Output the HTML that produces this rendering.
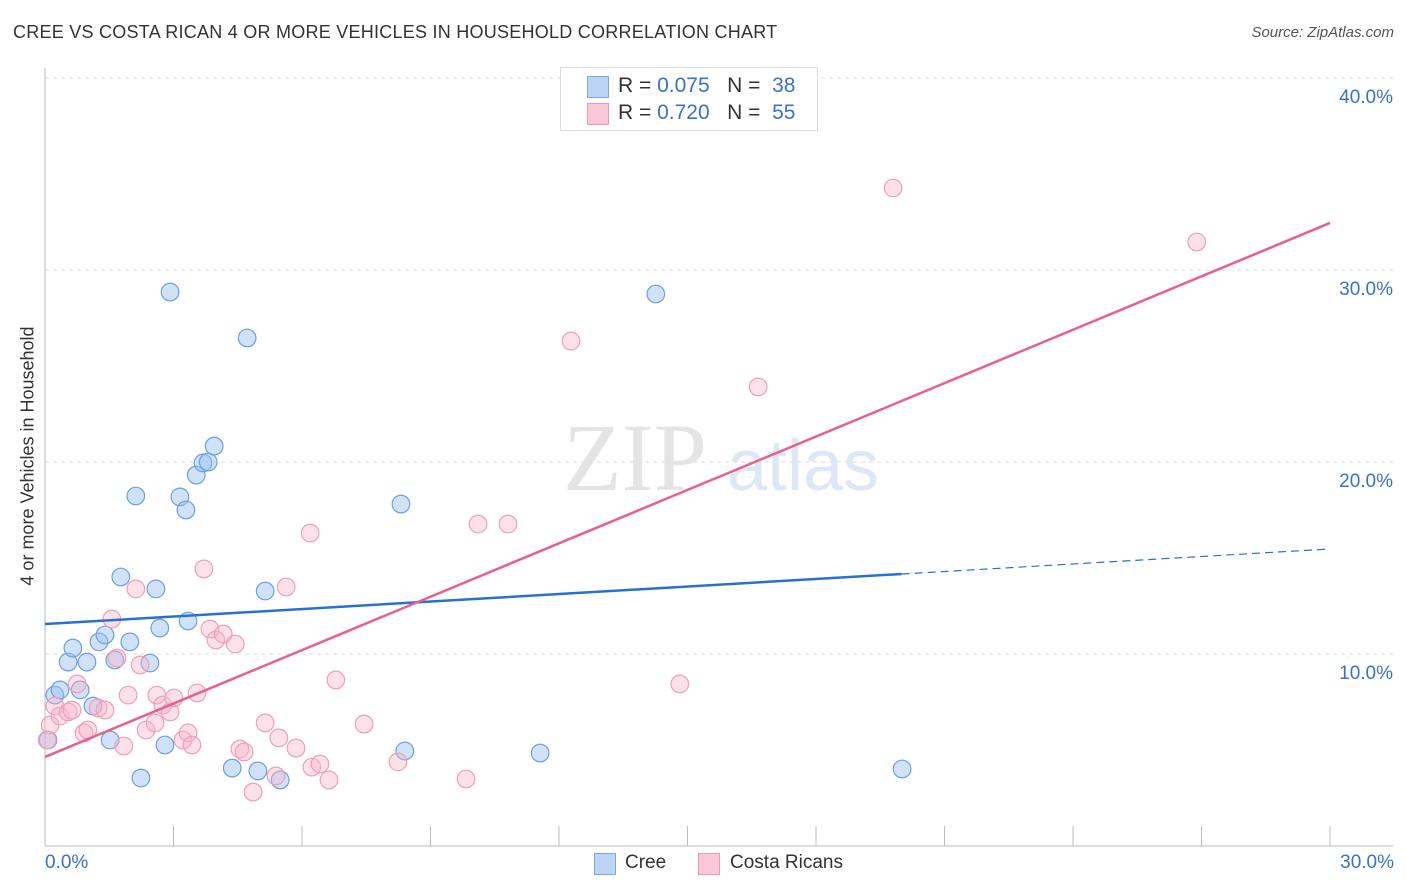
<!DOCTYPE html>
<html><head><meta charset="utf-8">
<style>
body{margin:0;background:#fff;font-family:"Liberation Sans",sans-serif;}
#wrap{position:relative;width:1406px;height:892px;overflow:hidden;}
.t{position:absolute;white-space:nowrap;}
</style></head>
<body><div id="wrap">
<div class="t" style="left:13px;top:22px;font-size:18px;letter-spacing:0.25px;color:#333;">CREE VS COSTA RICAN 4 OR MORE VEHICLES IN HOUSEHOLD CORRELATION CHART</div>
<div class="t" style="right:12px;top:24px;font-size:15px;color:#555;font-style:italic;">Source: ZipAtlas.com</div>
<div class="t" style="left:28px;top:456px;font-size:18px;color:#333;transform:translate(-50%,-50%) rotate(-90deg);">4 or more Vehicles in Household</div>
<svg id="svg" width="1406" height="892" style="position:absolute;left:0;top:0"></svg>
<div style="position:absolute;left:560px;top:67px;width:256px;height:62px;border:1px solid #ddd;background:#fff;font-size:21px;">
 <div style="position:absolute;left:26px;top:8px;width:20px;height:20px;background:#bcd4f5;border:1px solid #7da7e6;"></div>
 <div class="t" style="left:57px;top:6px;color:#333;">R = <span style="color:#3a72c8">0.075</span>&nbsp;&nbsp;&nbsp;N = &nbsp;<span style="color:#3a72c8">38</span></div>
 <div style="position:absolute;left:26px;top:35px;width:20px;height:20px;background:#f9c8d6;border:1px solid #ec9ab3;"></div>
 <div class="t" style="left:57px;top:33px;color:#333;">R = <span style="color:#3a72c8">0.720</span>&nbsp;&nbsp;&nbsp;N = &nbsp;<span style="color:#3a72c8">55</span></div>
</div>
<div class="t" style="left:45px;top:852px;font-size:19px;color:#3a72c8;">0.0%</div>
<div class="t" style="right:12px;top:852px;font-size:19px;color:#3a72c8;">30.0%</div>
<div style="position:absolute;left:594px;top:853px;width:20px;height:20px;background:#bcd4f5;border:1px solid #7da7e6;"></div>
<div class="t" style="left:625px;top:852px;font-size:19px;color:#333;">Cree</div>
<div style="position:absolute;left:698px;top:853px;width:20px;height:20px;background:#f9c8d6;border:1px solid #ec9ab3;"></div>
<div class="t" style="left:730px;top:852px;font-size:19px;color:#333;">Costa Ricans</div>
</div>
<script>
const yTicks=[10,20,30,40];
const yTickLabels=["10.0%","20.0%","30.0%","40.0%"];
const xTicks=[0,3,6,9,12,15,18,21,24,27,30];
const creeX=[0.07,0.23,0.35,0.54,0.65,0.82,0.98,1.12,1.26,1.40,1.52,1.63,1.77,1.98,2.12,2.24,2.45,2.59,2.68,2.80,2.92,3.15,3.29,3.34,3.53,3.69,3.81,3.95,4.37,4.72,4.97,5.14,5.49,8.31,8.40,11.56,14.26,20.01];
const creeY=[5.52,7.86,8.13,9.58,10.31,8.13,9.58,7.29,10.63,10.99,5.52,9.69,14.01,10.63,18.23,3.54,9.53,13.39,11.35,5.26,28.85,18.18,17.5,11.72,19.32,19.95,20.0,20.83,4.06,26.46,3.91,13.28,3.44,17.81,4.95,4.84,28.75,4.01];
const costaX=[0.12,0.23,0.35,0.54,0.63,0.75,0.91,1.00,1.24,1.40,1.56,1.68,1.84,1.94,2.12,2.22,2.36,2.57,2.61,2.75,2.92,3.01,3.22,3.34,3.43,3.55,3.71,3.85,3.99,4.16,4.44,4.55,4.65,4.86,5.14,5.39,5.46,5.63,5.86,6.19,6.23,6.42,6.63,6.79,7.45,8.24,9.83,10.11,10.81,12.28,14.82,16.65,19.80,26.89,0.05];
const costaY=[6.30,7.29,6.77,6.98,7.08,8.44,5.89,6.04,7.19,7.08,11.82,9.79,5.21,7.86,13.39,9.43,6.04,6.41,7.86,7.34,6.98,7.71,5.52,5.89,5.26,7.97,14.43,11.30,10.73,11.04,10.52,5.05,4.90,2.81,6.41,3.65,5.63,13.49,5.10,16.30,4.11,4.27,3.44,8.65,6.35,4.38,3.49,16.77,16.77,26.30,8.44,23.91,34.27,31.46,5.52];
const creeTrend=[11.56,15.47];
const creeSolidEnd=20;
const costaTrend=[4.64,32.45];

const NS="http://www.w3.org/2000/svg";
const svg=document.getElementById('svg');
const X0=45,X1=1330,Y0=846,PPY=19.2;
const sx=v=>X0+(v/30)*(X1-X0);
const sy=v=>Y0-v*PPY;
function mk(tag,attrs){const e=document.createElementNS(NS,tag);for(const k in attrs)e.setAttribute(k,attrs[k]);svg.appendChild(e);return e;}
yTicks.forEach((t,i)=>{
  const g=mk('line',{x1:X0,x2:1393,y1:sy(t),y2:sy(t),stroke:'#ddd','stroke-dasharray':'4,4'});
  
  
  const tx=mk('text',{x:1393,y:sy(t)+25,'text-anchor':'end','font-size':19,fill:'#3a72c8','font-family':'Liberation Sans, sans-serif'});
  tx.textContent=yTickLabels[i];
  
  
});
const ax=mk('line',{x1:X0,x2:X0,y1:68,y2:Y0,stroke:'#bbb'});


const bx=mk('line',{x1:X0,x2:1393,y1:Y0,y2:Y0,stroke:'#bbb'});


xTicks.forEach(t=>{
  const l=mk('line',{x1:sx(t),x2:sx(t),y1:826,y2:Y0,stroke:'#bbb'});
  
  
});
const w1=mk('text',{x:635,y:490,'text-anchor':'middle','font-size':96,fill:'#e4e4e4','font-family':'Liberation Serif, serif'});
w1.textContent='ZIP';


const w2=mk('text',{x:803,y:490,'text-anchor':'middle','font-size':72,fill:'#dde8f6','font-family':'Liberation Sans, sans-serif'});
w2.textContent='atlas';


creeX.forEach((x,i)=>{
  const c=mk('circle',{cx:sx(x),cy:sy(creeY[i]),r:8.8,fill:'rgba(150,190,240,0.45)',stroke:'#6e9fe2','stroke-width':1.2});
  
  
});
costaX.forEach((x,i)=>{
  const c=mk('circle',{cx:sx(x),cy:sy(costaY[i]),r:8.8,fill:'rgba(248,180,200,0.4)',stroke:'#eea0b8','stroke-width':1.2});
  
  
});
const ym=creeTrend[0]+(creeTrend[1]-creeTrend[0])*creeSolidEnd/30;
const l1=mk('line',{x1:sx(0),y1:sy(creeTrend[0]),x2:sx(creeSolidEnd),y2:sy(ym),stroke:'#2a6fd6','stroke-width':2.5});


const l2=mk('line',{x1:sx(creeSolidEnd),y1:sy(ym),x2:sx(30),y2:sy(creeTrend[1]),stroke:'#2a6fd6','stroke-width':1.2,'stroke-dasharray':'8,5'});


const l3=mk('line',{x1:sx(0),y1:sy(costaTrend[0]),x2:sx(30),y2:sy(costaTrend[1]),stroke:'#e8608c','stroke-width':2.5});


</script>
</body></html>
